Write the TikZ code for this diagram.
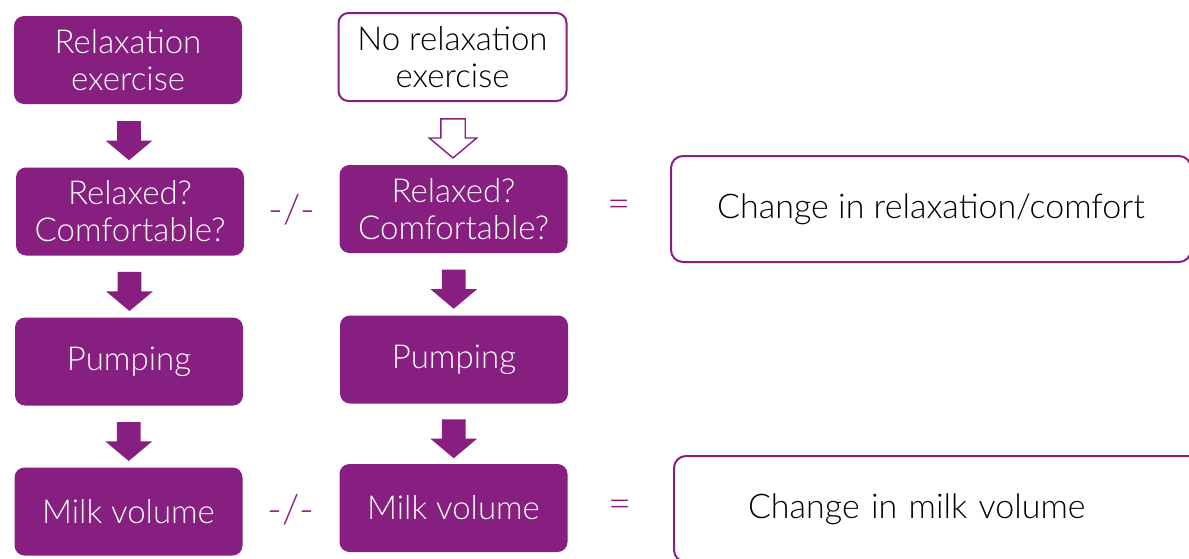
\documentclass[tikz,border=0pt]{standalone}
\usepackage{fontspec}
\setmainfont{Lato}[UprightFont=* Light]
\usetikzlibrary{shapes.arrows,calc}
\definecolor{purp}{RGB}{134,31,128}
\begin{document}
\begin{tikzpicture}[x=0.5pt,y=-0.5pt,
    box/.style={rounded corners=5pt,fill=purp,text=white,align=center,minimum width=114pt,minimum height=44pt,font=\fontsize{16.5}{18.5}\selectfont},
    openbox/.style={box,fill=white,draw=purp,line width=1pt,text=black},
    result/.style={rounded corners=6pt,draw=purp,line width=1pt,minimum height=53pt,font=\fontsize{17}{20}\selectfont},
    flowarrow/.style={single arrow,shape border rotate=270,minimum height=19.5pt,single arrow head extend=5.75pt,single arrow tip angle=100,inner sep=5.75pt,fill=purp},
    openarrow/.style={flowarrow,fill=white,draw=purp,line width=0.7pt},
    sym/.style={text=purp,font=\fontsize{20}{22}\selectfont}]
      \useasboundingbox (0,0) rectangle (1189,558);
      \clip (0,0) rectangle (1189,558);
      \node[box] (a1) at (128,60) {Relaxation\\exercise};
      \node[openbox] (b1) at (452.5,57) {No relaxation\\exercise};
      \node[box] (a2) at (130,211.5) {Relaxed?\\Comfortable?};
      \node[box] (b2) at (453.5,209) {Relaxed?\\Comfortable?};
      \node[box] (a3) at (129,361.5) {Pumping};
      \node[box] (b3) at (454,359.5) {Pumping};
      \node[box] (a4) at (128.5,511.5) {Milk volume};
      \node[box] (b4) at (453.5,508) {Milk volume};
      \node[result,minimum width=260pt] (c1) at (931,209) {Change in relaxation/comfort};
      \node[result,minimum width=263pt,text width=189pt,inner xsep=37pt,align=left] (c2) at (937,509) {Change in milk volume};
      \node[flowarrow] (ra1) at ($(a1.south)!.5!(a2.north)$) {};
      \node[flowarrow] (ra2) at ($(a2.south)!.5!(a3.north)$) {};
      \node[flowarrow] (ra3) at ($(a3.south)!.5!(a4.north)$) {};
      \node[openarrow] (rb1) at ($(b1.south)!.5!(b2.north)$) {};
      \node[flowarrow] (rb2) at ($(b2.south)!.5!(b3.north)$) {};
      \node[flowarrow] (rb3) at ($(b3.south)!.5!(b4.north)$) {};
      \node[sym] (ne1) at ($(a2.east)!.5!(b2.west)$) {-/-};
      \node[sym] (ne2) at ($(a4.east)!.5!(b4.west)$) {-/-};
      \node[sym] (eq1) at ($(b2.east)!.5!(c1.west)$) {=};
      \node[sym] (eq2) at ($(b4.east)!.5!(c2.west)$) {=};
    \end{tikzpicture}
\end{document}
